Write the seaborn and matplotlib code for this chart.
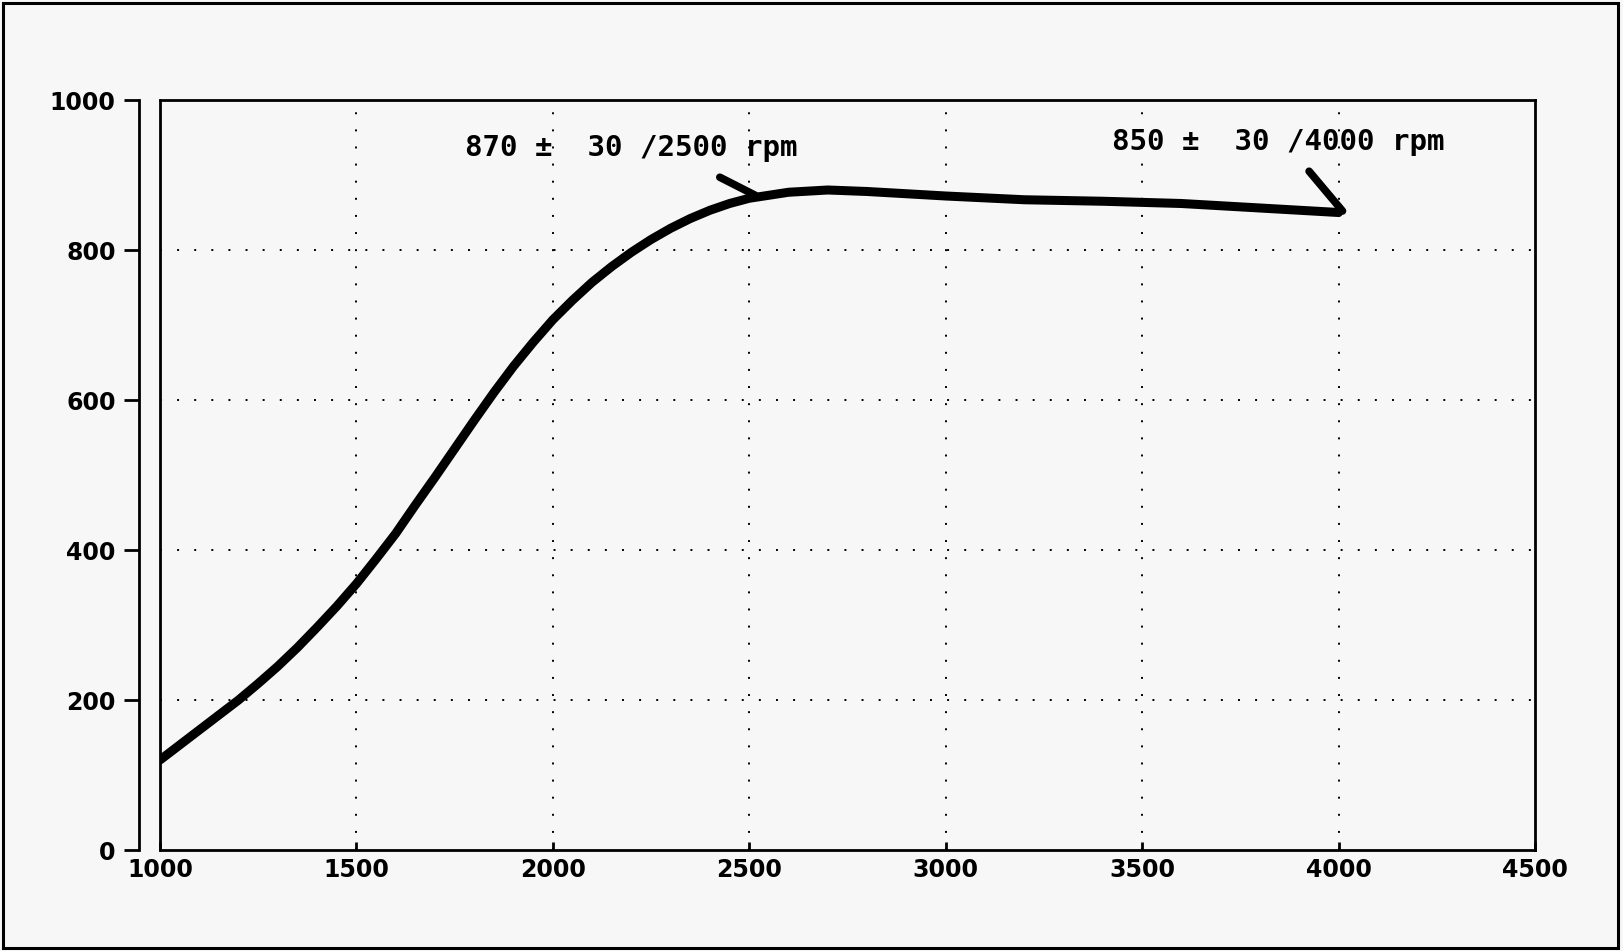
import matplotlib
matplotlib.use("Agg")
import matplotlib.pyplot as plt
import seaborn as sns
import pandas as pd
from matplotlib.patches import Rectangle

rpm = [1000, 1050, 1100, 1150, 1200, 1250, 1300, 1350, 1400, 1450, 1500,
       1550, 1600, 1650, 1700, 1750, 1800, 1850, 1900, 1950, 2000, 2050,
       2100, 2150, 2200, 2250, 2300, 2350, 2400, 2450, 2500, 2600, 2700,
       2800, 2900, 3000, 3200, 3400, 3600, 3800, 4000]
torque = [120, 140, 160, 180, 200, 222, 245, 270, 297, 325, 355,
          388, 422, 460, 497, 535, 573, 610, 645, 677, 707, 733,
          757, 778, 797, 814, 829, 842, 853, 862, 869, 877, 880,
          878, 875, 872, 867, 865, 862, 856, 850]
x_ticks = [1000, 1500, 2000, 2500, 3000, 3500, 4000, 4500]
y_ticks = [0, 200, 400, 600, 800, 1000]
label1 = "870 \u00b1  30 /2500 rpm"
label2 = "850 \u00b1  30 /4000 rpm"

df = pd.DataFrame({"rpm": rpm, "torque": torque})

sns.set_theme(style="white")
plt.rcParams["font.family"] = ["DejaVu Sans"]

bg = "#f7f7f7"
fig = plt.figure(figsize=(16.23, 9.51), dpi=100, facecolor=bg)
ax = fig.add_axes([160/1623, 1-850/951, (1535-160)/1623, 750/951])
ax.set_facecolor(bg)

# grid
for xv in x_ticks[1:-1]:
    ax.axvline(xv, color="black", lw=1.4, dashes=(1, 7.8), zorder=1)
for yv in y_ticks[1:-1]:
    ax.axhline(yv, color="black", lw=1.4, dashes=(1, 7.8), zorder=1)

sns.lineplot(data=df, x="rpm", y="torque", ax=ax, color="black", lw=6.5,
             solid_capstyle="round", solid_joinstyle="round", zorder=3)

for s in ax.spines.values():
    s.set_color("black")
    s.set_linewidth(2.0)
ax.spines["left"].set_position(("outward", 15))

ax.set_xlim(1000, 4500)
ax.set_ylim(0, 1000)
ax.set_xticks(x_ticks)
ax.set_yticks(y_ticks)
ax.set_xticklabels([str(v) for v in x_ticks], fontsize=17, fontweight="bold")
ax.set_yticklabels([str(v) for v in y_ticks], fontsize=17, fontweight="bold")
ax.set_xlabel("")
ax.set_ylabel("")

# inner frame left edge
ax.plot([0, 0], [0, 1], transform=ax.transAxes, color="black", lw=2.0,
        clip_on=False, zorder=4)

ax.tick_params(axis="x", direction="in", length=6, width=2, pad=6, colors="black",
               bottom=True)
ax.tick_params(axis="y", direction="out", length=11, width=2, pad=6, colors="black",
               left=True)

# annotations
ax.text(2199, 936, label1, ha="center", va="center", fontsize=21,
        fontweight="bold", family="DejaVu Sans Mono", color="black")
ax.text(3846, 944, label2, ha="center", va="center", fontsize=21,
        fontweight="bold", family="DejaVu Sans Mono", color="black")
ax.annotate("", xy=(2515, 873), xytext=(2425, 897),
            arrowprops=dict(arrowstyle="-", color="black", lw=5.5,
                            shrinkA=0, shrinkB=0))
ax.annotate("", xy=(4010, 852), xytext=(3925, 905),
            arrowprops=dict(arrowstyle="-", color="black", lw=5.5,
                            shrinkA=0, shrinkB=0))

# outer frame
fig.patches.append(Rectangle((0.002, 0.003), 0.995, 0.994, transform=fig.transFigure,
                             fill=False, edgecolor="black", lw=2.2))

fig.savefig("out.png", dpi=100, facecolor=bg)
